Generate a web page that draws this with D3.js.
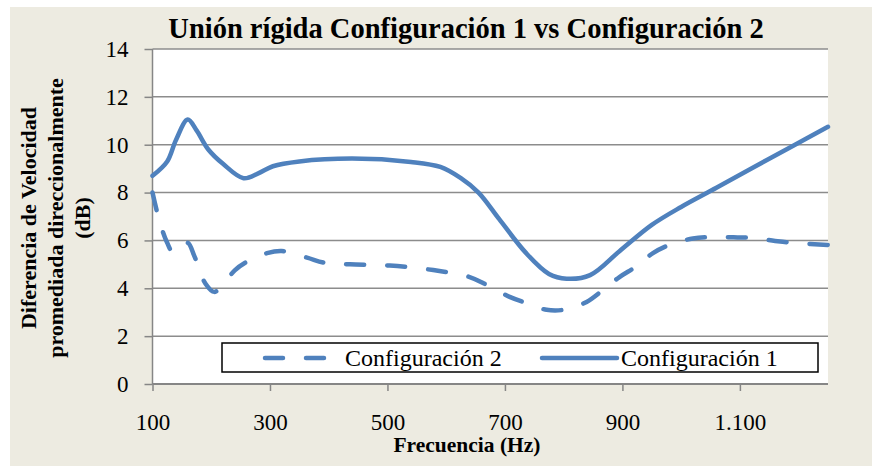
<!DOCTYPE html>
<html>
<head>
<meta charset="utf-8">
<script src="https://cdn.jsdelivr.net/npm/d3@7"></script>
<style>
  body { margin: 0; background: #ffffff; }
  text { font-family: "Liberation Serif", "Times New Roman", serif; fill: #000; }
</style>
</head>
<body>
<div id="chart"></div>
<script>
// valores
var freqConf1 = [100, 125, 140, 160, 175, 195, 220, 255, 280, 305, 350, 440, 540, 590, 625, 655, 690, 735, 775, 805, 845, 895, 950, 1000, 1060, 1125, 1190, 1250];
var valConf1 = [8.7, 9.3, 10.2, 11.05, 10.6, 9.8, 9.2, 8.6, 8.8, 9.1, 9.3, 9.42, 9.28, 9.07, 8.6, 8.0, 6.9, 5.5, 4.6, 4.4, 4.55, 5.55, 6.65, 7.4, 8.2, 9.08, 9.95, 10.75];

var freqConf2 = [100, 112, 125, 135, 150, 160, 172, 190, 205, 220, 240, 260, 295, 320, 363, 394, 436, 504, 578, 640, 669, 708, 737, 771, 805, 839, 867, 895, 924, 952, 984, 1020, 1054, 1089, 1122, 1160, 1197, 1250];
var valConf2 = [8.0, 6.8, 5.9, 5.5, 5.75, 5.9, 5.3, 4.2, 3.85, 4.15, 4.75, 5.1, 5.47, 5.56, 5.28, 5.06, 5.0, 4.95, 4.76, 4.47, 4.14, 3.64, 3.38, 3.1, 3.12, 3.43, 3.93, 4.47, 4.92, 5.47, 5.85, 6.08, 6.14, 6.13, 6.1, 5.98, 5.89, 5.81];

var xTicks = [100, 300, 500, 700, 900, 1100];
var yTicks = [0, 2, 4, 6, 8, 10, 12, 14];

var width = 872, height = 468;
var plotLeft = 152.5, plotRight = 828, plotTop = 49, plotBottom = 384;
var blue = "#4F81BD";

var svg = d3.select("#chart").append("svg")
  .attr("width", width)
  .attr("height", height);

// fondo
svg.append("rect").attr("x", 10).attr("y", 7).attr("width", 862).attr("height", 459).attr("fill", "#EDEBE1");
svg.append("rect").attr("x", plotLeft).attr("y", plotTop).attr("width", plotRight - plotLeft).attr("height", plotBottom - plotTop).attr("fill", "#ffffff");

var x = d3.scaleLinear().domain([100, 1250]).range([plotLeft, plotRight]);
var y = d3.scaleLinear().domain([0, 14]).range([plotBottom, plotTop]);

// lineas de cuadricula
svg.append("g").selectAll("line")
  .data(yTicks.filter(function (d) { return d > 0; }))
  .join("line")
  .attr("x1", plotLeft).attr("x2", plotRight)
  .attr("y1", function (d) { return y(d); })
  .attr("y2", function (d) { return y(d); })
  .attr("stroke", "#8c8c8c")
  .attr("stroke-width", 1.5);

var yAxis = svg.append("g")
  .attr("transform", "translate(" + plotLeft + ",0)")
  .call(d3.axisLeft(y).tickValues(yTicks).tickSize(8).tickPadding(16));
yAxis.select(".domain").attr("stroke", "#868686").attr("stroke-width", 1.5).attr("d", "M0," + plotBottom + "V" + plotTop);
yAxis.selectAll(".tick line").attr("stroke", "#868686").attr("stroke-width", 1.5);
yAxis.selectAll(".tick text").attr("font-size", 23).attr("font-family", "Liberation Serif");

var xAxis = svg.append("g")
  .attr("transform", "translate(0," + plotBottom + ")")
  .call(d3.axisBottom(x).tickValues(xTicks).tickSize(7).tickPadding(23)
    .tickFormat(function (d) { return d >= 1000 ? d3.format(",")(d).replace(",", ".") : d; }));
xAxis.select(".domain").attr("stroke", "#868686").attr("stroke-width", 2).attr("d", "M" + plotLeft + ",0H" + plotRight);
xAxis.selectAll(".tick line").attr("stroke", "#868686").attr("stroke-width", 1.5);
xAxis.selectAll(".tick text").attr("font-size", 23).attr("font-family", "Liberation Serif");

// series
var line = d3.line()
  .x(function (d) { return x(d[0]); })
  .y(function (d) { return y(d[1]); })
  .curve(d3.curveCatmullRom.alpha(0.5));

var serie1 = d3.zip(freqConf1, valConf1);
var serie2 = d3.zip(freqConf2, valConf2);

svg.append("path")
  .datum(serie2)
  .attr("d", line)
  .attr("fill", "none")
  .attr("stroke", blue)
  .attr("stroke-width", 4.5)
  .attr("stroke-linecap", "round")
  .attr("stroke-dasharray", "18,23");

svg.append("path")
  .datum(serie1)
  .attr("d", line)
  .attr("fill", "none")
  .attr("stroke", blue)
  .attr("stroke-width", 4.5)
  .attr("stroke-linecap", "round");

// titulo
svg.append("text")
  .attr("x", 466).attr("y", 38)
  .attr("text-anchor", "middle")
  .attr("font-size", 28.5).attr("font-weight", "bold")
  .text("Unión rígida Configuración 1 vs Configuración 2");

svg.append("text")
  .attr("x", 467).attr("y", 452)
  .attr("text-anchor", "middle")
  .attr("font-size", 21.5).attr("font-weight", "bold")
  .text("Frecuencia (Hz)");

var yTitle = ["Diferencia de Velocidad", "promediada direccionalmente", "(dB)"];
svg.append("g")
  .attr("transform", "translate(0,218) rotate(-90)")
  .selectAll("text")
  .data(yTitle)
  .join("text")
  .attr("x", 0)
  .attr("y", function (d, i) { return 36 + i * 27; })
  .attr("text-anchor", "middle")
  .attr("font-size", 22).attr("font-weight", "bold")
  .text(function (d) { return d; });

// leyenda
var legend = svg.append("g");
legend.append("rect")
  .attr("x", 222).attr("y", 343).attr("width", 596).attr("height", 29)
  .attr("fill", "#ffffff").attr("stroke", "#000").attr("stroke-width", 1.5);
legend.append("line")
  .attr("x1", 265).attr("x2", 330).attr("y1", 358).attr("y2", 358)
  .attr("stroke", blue).attr("stroke-width", 4.5)
  .attr("stroke-linecap", "round").attr("stroke-dasharray", "18,23");
legend.append("text").attr("x", 345).attr("y", 366).attr("font-size", 24).text("Configuración 2");
legend.append("line")
  .attr("x1", 542).attr("x2", 617).attr("y1", 358).attr("y2", 358)
  .attr("stroke", blue).attr("stroke-width", 4.5).attr("stroke-linecap", "round");
legend.append("text").attr("x", 621).attr("y", 366).attr("font-size", 24).text("Configuración 1");
</script>
</body>
</html>
